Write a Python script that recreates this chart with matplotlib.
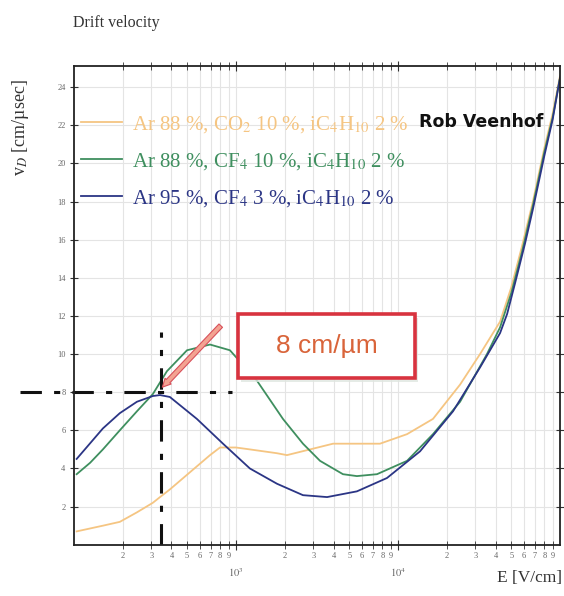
import numpy as np
import matplotlib.pyplot as plt
from matplotlib.ticker import LogLocator, FixedLocator, FuncFormatter
from matplotlib.patches import Rectangle

plt.rcParams['font.family'] = ['Liberation Serif', 'DejaVu Serif']
plt.rcParams['mathtext.fontset'] = 'stix'

# drift velocity curves (E in V/cm, v in cm/usec)
E_co2 = [104, 151, 192, 245, 307, 340, 391, 520, 692, 797, 1000, 1219, 1791, 2064,
         2866, 3973, 7739, 11370, 16440, 24160, 32080, 42640, 50000, 58000, 68000,
         80000, 90000, 100000]
v_co2 = [0.7, 1.0, 1.2, 1.7, 2.2, 2.5, 2.9, 3.8, 4.7, 5.1, 5.1, 5.0, 4.8, 4.7,
         5.0, 5.3, 5.3, 5.8, 6.6, 8.4, 10.0, 11.7, 13.5, 15.6, 18.0,
         20.8, 22.6, 24.6]

E_cf10 = [104, 126, 151, 192, 245, 307, 375, 499, 692, 918, 1349, 1950, 2592, 3303,
          4575, 5578, 7419, 11370, 16440, 24160, 35410, 42640, 50000, 58000, 68000,
          80000, 90000, 100000]
v_cf10 = [3.7, 4.3, 5.0, 6.0, 7.0, 7.9, 9.1, 10.2, 10.5, 10.2, 8.6, 6.6, 5.3, 4.4,
          3.7, 3.6, 3.7, 4.4, 5.8, 7.5, 10.0, 11.4, 13.2, 15.3, 17.8,
          20.6, 22.4, 24.5]

E_cf3 = [104, 151, 192, 245, 307, 340, 391, 574, 832, 1219, 1791, 2592, 3651, 5578,
         8551, 13680, 21860, 32080, 42640, 47130, 52700, 60800, 68000, 80000, 90000,
         100000]
v_cf3 = [4.5, 6.1, 6.9, 7.5, 7.8, 7.85, 7.75, 6.6, 5.3, 4.0, 3.2, 2.6, 2.5, 2.8,
         3.5, 4.9, 7.0, 9.3, 11.1, 12.1, 13.7, 15.8, 17.6, 20.4, 22.3,
         24.5]

labels = ['Ar 88 %, CO$_2$ 10 %, iC$_4$H$_{10}$ 2 %',
          'Ar 88 %, CF$_4$ 10 %, iC$_4$H$_{10}$ 2 %',
          'Ar 95 %, CF$_4$ 3 %, iC$_4$H$_{10}$ 2 %']
colors = ['#f5c582', '#3f8f5f', '#2b3585']

guide_E = 345
guide_v = 8

fig = plt.figure(figsize=(5.64, 5.96), dpi=100)
ax = fig.add_axes([0.131, 0.086, 0.862, 0.803])

ax.plot(E_co2, v_co2, color=colors[0], lw=1.3, label=labels[0])
ax.plot(E_cf10, v_cf10, color=colors[1], lw=1.3, label=labels[1])
ax.plot(E_cf3, v_cf3, color=colors[2], lw=1.3, label=labels[2])

ax.set_xscale('log')
ax.set_xlim(100, 1e5)
ax.set_ylim(0, 25.1)

ax.set_yticks(range(2, 25, 2))
ax.xaxis.set_major_locator(FixedLocator([1e3, 1e4]))
ax.xaxis.set_minor_locator(LogLocator(base=10, subs=np.arange(2, 10)))
ax.xaxis.set_major_formatter(FuncFormatter(lambda x, p: '$10^{%d}$' % round(np.log10(x))))
ax.xaxis.set_minor_formatter(FuncFormatter(lambda x, p: '%d' % round(x / 10 ** np.floor(np.log10(x) + 1e-9))))

ax.tick_params(which='both', direction='inout', top=True, right=True, colors='#333333',
               labelcolor='#666666')
ax.tick_params(axis='x', which='major', length=7, pad=12, labelsize=7.5)
ax.tick_params(axis='x', which='minor', length=6, pad=2, labelsize=6)
ax.tick_params(axis='y', length=6, labelsize=6, pad=3)

ax.grid(True, which='both', axis='x', color='#e4e4e4', lw=0.8)
ax.grid(True, which='major', axis='y', color='#e4e4e4', lw=0.8)
ax.set_axisbelow(True)
for s in ax.spines.values():
    s.set_linewidth(1.3)
    s.set_color('#222222')

# dash-dot guide lines
ax.axhline(guide_v, xmin=-0.11, xmax=0.325, color='#111111', lw=2.2,
           ls=(0, (7, 4, 2, 4)), clip_on=False)
ax.axvline(guide_E, ymin=0.0, ymax=0.445, color='#111111', lw=2.2,
           ls=(0, (7, 4, 2, 4)))

leg = ax.legend(loc='upper left', bbox_to_anchor=(0.014, 0.9), frameon=False,
                fontsize=15, handlelength=2.0, handletextpad=0.45, labelspacing=0.78,
                borderpad=0, borderaxespad=0, labelcolor='linecolor')

ax.text(0.838, 0.883, 'Rob Veenhof', transform=ax.transAxes, ha='center', va='center',
        fontsize=12.5, fontweight='bold', family='DejaVu Sans', color='#111111', zorder=7)

# highlighted box
ax.add_patch(Rectangle((0.343, 0.340), 0.365, 0.134, transform=ax.transAxes,
                       fc='#dfe6e0', ec='none', alpha=0.8, zorder=4))
ax.add_patch(Rectangle((0.337, 0.349), 0.365, 0.133, transform=ax.transAxes,
                       fc='white', ec='#d8333f', lw=2.6, zorder=5))
ax.text(0.52, 0.415, '8 cm/µm', transform=ax.transAxes, ha='center', va='center',
        fontsize=19, family='Liberation Sans', color='#d9643a', zorder=6)

ax.annotate('', xy=(0.178, 0.325), xytext=(0.306, 0.462),
            xycoords='axes fraction', textcoords='axes fraction',
            arrowprops=dict(arrowstyle='simple,head_length=0.6,head_width=0.6,tail_width=0.35',
                            fc='#f3a392', ec='#d8505a', lw=0.8), zorder=6)

fig.text(0.13, 0.962, 'Drift velocity', fontsize=11.5, color='#333333', va='center')
fig.text(0.036, 0.785, 'v$_D$ [cm/µsec]', rotation=90, fontsize=13, color='#333333',
         ha='center', va='center')
fig.text(0.997, 0.03, 'E [V/cm]', fontsize=12.5, color='#333333', ha='right', va='center')

fig.savefig('out.png', dpi=100)
